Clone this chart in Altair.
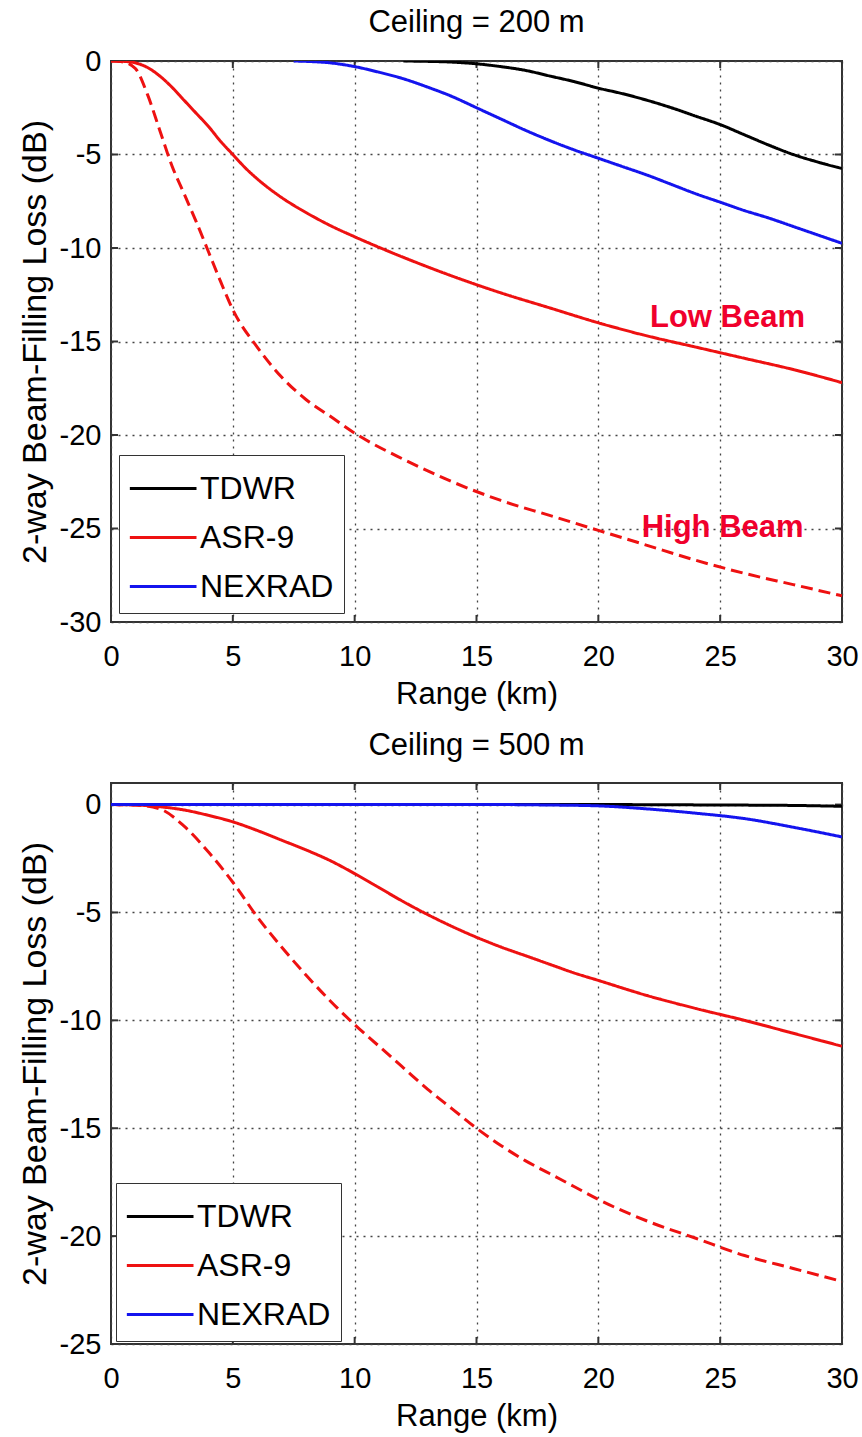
import altair as alt
import pandas as pd

FONT = "Liberation Sans"

# ---------------- data ----------------
x_ticks = [0, 5, 10, 15, 20, 25, 30]
y_ticks_200 = [-30, -25, -20, -15, -10, -5, 0]
y_ticks_500 = [-25, -20, -15, -10, -5, 0]
series_names = ["TDWR", "ASR-9", "NEXRAD"]
series_colors = ["#000000", "#ee1111", "#1414ee"]

# Ceiling = 200 m
tdwr200_x = [12, 13, 14, 15, 16, 17, 18, 19, 20, 21, 22, 23, 24, 25, 26, 27, 28, 29, 30]
tdwr200_y = [0, -0.02, -0.06, -0.15, -0.3, -0.5, -0.8, -1.1, -1.45, -1.75, -2.1, -2.5, -2.95, -3.4, -3.95, -4.5, -5.0, -5.4, -5.75]
nex200_x = [7.5, 8, 9, 10, 11, 12, 13, 14, 15, 16, 17, 18, 19, 20, 21, 22, 23, 24, 25, 26, 27, 28, 29, 30]
nex200_y = [0, -0.02, -0.1, -0.3, -0.6, -0.95, -1.4, -1.9, -2.5, -3.1, -3.7, -4.25, -4.75, -5.2, -5.65, -6.1, -6.6, -7.1, -7.55, -8.0, -8.4, -8.85, -9.3, -9.75]
asrlow200_x = [0, 0.5, 1, 1.5, 2, 2.5, 3, 3.5, 4, 4.5, 5, 5.5, 6, 7, 8, 9, 10, 12, 14, 16, 18, 20, 22, 24, 26, 28, 30]
asrlow200_y = [0, -0.02, -0.1, -0.35, -0.8, -1.4, -2.1, -2.8, -3.5, -4.3, -5.0, -5.7, -6.3, -7.3, -8.1, -8.8, -9.4, -10.5, -11.5, -12.4, -13.2, -14.0, -14.7, -15.3, -15.9, -16.5, -17.2]
asrhigh200_x = [0, 0.5, 1, 1.5, 2, 2.5, 3, 3.5, 4, 4.5, 5, 6, 7, 8, 9, 10, 12, 14, 16, 18, 20, 22, 24, 26, 28, 30]
asrhigh200_y = [0, -0.05, -0.4, -1.8, -3.7, -5.6, -7.1, -8.6, -10.2, -11.8, -13.3, -15.3, -16.9, -18.1, -19.0, -19.9, -21.3, -22.5, -23.5, -24.3, -25.1, -25.9, -26.7, -27.4, -28.0, -28.6]

# Ceiling = 500 m
tdwr500_x = [0, 10, 20, 25, 28, 30]
tdwr500_y = [0, 0, 0, -0.02, -0.04, -0.08]
nex500_x = [0, 16, 18, 20, 22, 24, 26, 28, 30]
nex500_y = [0, 0, -0.02, -0.06, -0.2, -0.4, -0.65, -1.05, -1.5]
asrlow500_x = [0, 1, 2, 3, 4, 5, 6, 7, 8, 9, 10, 11, 12, 13, 14, 15, 16, 17, 18, 19, 20, 22, 24, 26, 28, 30]
asrlow500_y = [0, -0.02, -0.1, -0.25, -0.5, -0.8, -1.2, -1.65, -2.1, -2.6, -3.2, -3.85, -4.5, -5.1, -5.65, -6.15, -6.6, -7.0, -7.4, -7.8, -8.15, -8.85, -9.45, -10.0, -10.6, -11.2]
asrhigh500_x = [0, 1, 2, 3, 4, 5, 6, 7, 8, 9, 10, 11, 12, 13, 14, 15, 16, 17, 18, 19, 20, 22, 24, 26, 28, 30]
asrhigh500_y = [0, -0.02, -0.2, -1.0, -2.2, -3.6, -5.2, -6.6, -7.9, -9.1, -10.2, -11.2, -12.2, -13.2, -14.1, -15.0, -15.8, -16.5, -17.1, -17.7, -18.3, -19.3, -20.1, -20.9, -21.5, -22.1]

note_text = ["Low Beam", "High Beam"]
note_x = [25.3, 25.1]
note_y = [-13.75, -24.95]


def build_df(parts):
    rows = []
    for series, beam, xs, ys in parts:
        for x, y in zip(xs, ys):
            rows.append({"series": series, "beam": beam, "key": series + "-" + beam, "x": x, "y": y})
    return pd.DataFrame(rows)


df200 = build_df([
    ("TDWR", "Low", tdwr200_x, tdwr200_y),
    ("ASR-9", "Low", asrlow200_x, asrlow200_y),
    ("ASR-9", "High", asrhigh200_x, asrhigh200_y),
    ("NEXRAD", "Low", nex200_x, nex200_y),
])
df500 = build_df([
    ("TDWR", "Low", tdwr500_x, tdwr500_y),
    ("ASR-9", "Low", asrlow500_x, asrlow500_y),
    ("ASR-9", "High", asrhigh500_x, asrhigh500_y),
    ("NEXRAD", "Low", nex500_x, nex500_y),
])

W, H = 731, 561
TICK = 7
FRAME = "#333333"


def panel(df, yticks, ydom, title, title_offset, legend_x, legend_y, notes=None):
    xs = alt.Scale(domain=[0, 30], nice=False)
    ys = alt.Scale(domain=ydom, nice=False)
    xaxis = alt.Axis(values=x_ticks, title="Range (km)", grid=True, gridDash=[2, 5],
                     gridColor="#444444", gridWidth=1.3, gridOpacity=1, domain=False, ticks=False,
                     labelFlush=False, labelFontSize=29, labelFont=FONT, labelColor="black",
                     labelPadding=20, titleFontSize=31, titleFont=FONT, titleFontWeight="normal",
                     titleColor="black", titlePadding=8)
    yaxis = alt.Axis(values=yticks, title="2-way Beam-Filling Loss (dB)", grid=True, gridDash=[2, 5],
                     gridColor="#444444", gridWidth=1.3, gridOpacity=1, domain=False, ticks=False,
                     labelFontSize=29, labelFont=FONT, labelColor="black", labelPadding=10,
                     labelExpr="'' + datum.value",
                     titleFontSize=34, titleFont=FONT, titleFontWeight="normal",
                     titleColor="black", titlePadding=7)
    legend = alt.Legend(title=None, orient="none", legendX=legend_x, legendY=legend_y,
                        symbolType="M-1.03,0H2.0", symbolSize=1936, symbolStrokeWidth=3,
                        labelFontSize=32, labelFont=FONT, labelColor="black", labelOffset=24,
                        rowPadding=9, padding=10, strokeColor=FRAME, fillColor="white")
    lines = alt.Chart(df).mark_line(strokeWidth=3, clip=True, interpolate="monotone").encode(
        x=alt.X("x:Q", scale=xs, axis=xaxis),
        y=alt.Y("y:Q", scale=ys, axis=yaxis),
        color=alt.Color("series:N", scale=alt.Scale(domain=series_names, range=series_colors), legend=legend),
        strokeDash=alt.StrokeDash("beam:N", scale=alt.Scale(domain=["Low", "High"], range=[[1, 0], [12, 6]]), legend=None),
        detail="key:N",
    )
    xt = pd.DataFrame({"x": x_ticks})
    yt = pd.DataFrame({"y": yticks})
    tick_bottom = alt.Chart(xt).mark_rule(color=FRAME, strokeWidth=2).encode(
        x=alt.X("x:Q", scale=xs), y=alt.value(H), y2=alt.value(H - TICK))
    tick_top = alt.Chart(xt).mark_rule(color=FRAME, strokeWidth=2).encode(
        x=alt.X("x:Q", scale=xs), y=alt.value(0), y2=alt.value(TICK))
    tick_left = alt.Chart(yt).mark_rule(color=FRAME, strokeWidth=2).encode(
        y=alt.Y("y:Q", scale=ys), x=alt.value(0), x2=alt.value(TICK))
    tick_right = alt.Chart(yt).mark_rule(color=FRAME, strokeWidth=2).encode(
        y=alt.Y("y:Q", scale=ys), x=alt.value(W - TICK), x2=alt.value(W))
    layers = [tick_bottom, tick_top, tick_left, tick_right, lines]
    if notes is not None:
        text = alt.Chart(notes).mark_text(fontSize=31, fontWeight="bold", font=FONT, color="#f0002c",
                                          align="center", baseline="middle").encode(
            x=alt.X("x:Q", scale=xs), y=alt.Y("y:Q", scale=ys), text="text:N")
        layers.append(text)
    return alt.layer(*layers).properties(
        width=W, height=H,
        title=alt.Title(title, fontSize=31, font=FONT, fontWeight="normal", color="black", offset=title_offset),
    )


notes_df = pd.DataFrame({"text": note_text, "x": note_x, "y": note_y})
top = panel(df200, y_ticks_200, [-30, 0], "Ceiling = 200 m", 8, 8, 394, notes_df)
bottom = panel(df500, y_ticks_500, [-25, 1], "Ceiling = 500 m", 20, 5, 400)

chart = alt.vconcat(top, bottom, spacing=19).resolve_scale(
    color="independent", strokeDash="independent").resolve_legend(color="independent").properties(
    padding={"top": 6, "left": 17, "right": 0, "bottom": 4}
).configure_view(stroke=FRAME, strokeWidth=2)

chart.save("out.html", embed_options={"renderer": "svg", "actions": False})
